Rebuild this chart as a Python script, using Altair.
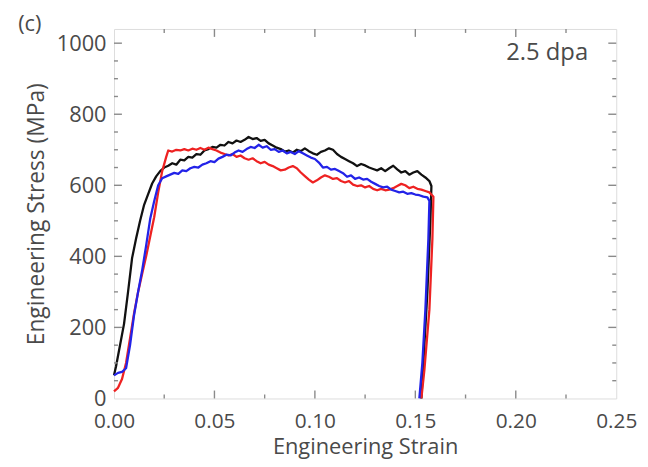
import altair as alt
import pandas as pd

# ---- data ----
black_strain = [0.000, 0.001, 0.003, 0.005, 0.007, 0.009, 0.011, 0.013, 0.015, 0.017, 0.019, 0.021, 0.023, 0.025,
                0.027, 0.029, 0.031, 0.033, 0.035, 0.037, 0.039, 0.041, 0.043, 0.045, 0.047, 0.049, 0.051, 0.053,
                0.055, 0.057, 0.059, 0.061, 0.063, 0.065, 0.067, 0.069, 0.071, 0.073, 0.075, 0.077, 0.079, 0.081,
                0.083, 0.085, 0.087, 0.089, 0.091, 0.093, 0.095, 0.097, 0.099, 0.101, 0.103, 0.105, 0.107, 0.109,
                0.111, 0.113, 0.115, 0.117, 0.119, 0.121, 0.123, 0.125, 0.127, 0.129, 0.131, 0.133, 0.135, 0.137,
                0.139, 0.141, 0.143, 0.145, 0.147, 0.149, 0.151, 0.153, 0.155, 0.157, 0.158,
                0.1575, 0.156, 0.1545, 0.153]
black_stress = [65, 90, 150, 210, 300, 395, 450, 500, 545, 575, 605, 625, 640, 650,
                655, 662, 658, 672, 670, 680, 678, 688, 686, 698, 702, 708, 706, 714,
                712, 722, 718, 726, 722, 728, 736, 730, 733, 725, 728, 718, 712, 706,
                702, 695, 698, 692, 700, 696, 704, 696, 690, 686, 694, 698, 704, 700,
                688, 680, 674, 668, 662, 654, 660, 656, 650, 646, 642, 648, 640, 648,
                655, 645, 636, 640, 630, 636, 640, 630, 622, 612, 598,
                500, 300, 150, 0]

blue_strain = [0.000, 0.002, 0.004, 0.006, 0.008, 0.010, 0.012, 0.014, 0.016, 0.018, 0.020, 0.022, 0.024, 0.026,
               0.028, 0.030, 0.032, 0.034, 0.036, 0.038, 0.040, 0.042, 0.044, 0.046, 0.048, 0.050, 0.052, 0.054,
               0.056, 0.058, 0.060, 0.062, 0.064, 0.066, 0.068, 0.070, 0.072, 0.074, 0.076, 0.078, 0.080, 0.082,
               0.084, 0.086, 0.088, 0.090, 0.092, 0.094, 0.096, 0.098, 0.100, 0.102, 0.104, 0.106, 0.108, 0.110,
               0.112, 0.114, 0.116, 0.118, 0.120, 0.122, 0.124, 0.126, 0.128, 0.130, 0.132, 0.134, 0.136, 0.138,
               0.140, 0.142, 0.144, 0.146, 0.148, 0.150, 0.152, 0.154, 0.156, 0.157,
               0.1565, 0.155, 0.1535, 0.152]
blue_stress = [65, 72, 75, 85, 150, 235, 300, 360, 430, 505, 555, 600, 620, 625,
               630, 635, 632, 642, 640, 648, 652, 650, 658, 662, 668, 665, 675, 680,
               686, 684, 692, 698, 694, 702, 708, 705, 714, 706, 710, 700, 702, 694,
               698, 690, 694, 688, 696, 690, 684, 678, 674, 664, 650, 652, 644, 646,
               640, 634, 624, 628, 618, 622, 616, 618, 610, 604, 598, 594, 596, 588,
               584, 580, 582, 576, 578, 574, 572, 568, 566, 556,
               450, 250, 100, 0]

red_strain = [0.000, 0.002, 0.004, 0.006, 0.008, 0.010, 0.012, 0.014, 0.016, 0.018, 0.020, 0.022, 0.024, 0.026,
              0.027, 0.029, 0.031, 0.033, 0.035, 0.037, 0.039, 0.041, 0.043, 0.045, 0.047, 0.049, 0.051, 0.053,
              0.055, 0.057, 0.059, 0.061, 0.063, 0.065, 0.067, 0.069, 0.071, 0.073, 0.075, 0.077, 0.079, 0.081,
              0.083, 0.085, 0.087, 0.089, 0.091, 0.093, 0.095, 0.097, 0.099, 0.101, 0.103, 0.105, 0.107, 0.109,
              0.111, 0.113, 0.115, 0.117, 0.119, 0.121, 0.123, 0.125, 0.127, 0.129, 0.131, 0.133, 0.135, 0.137,
              0.139, 0.141, 0.143, 0.145, 0.147, 0.149, 0.151, 0.153, 0.155, 0.157, 0.159,
              0.1585, 0.157, 0.1545, 0.153]
red_stress = [20, 30, 55, 100, 170, 240, 300, 350, 400, 455, 510, 580, 640, 680,
              698, 695, 700, 698, 702, 698, 703, 700, 705, 700, 706, 702, 698, 692,
              688, 684, 688, 680, 684, 676, 672, 676, 668, 662, 666, 658, 654, 648,
              642, 644, 650, 654, 648, 636, 626, 616, 608, 614, 622, 628, 624, 618,
              620, 612, 608, 612, 602, 598, 600, 594, 598, 590, 586, 590, 586, 588,
              592, 598, 604, 600, 592, 596, 590, 588, 584, 580, 568,
              450, 250, 80, 0]

series_names = ["black", "red", "blue"]
series_colors = ["#111111", "#ee2222", "#2323e8"]

x_major = [0.00, 0.05, 0.10, 0.15, 0.20, 0.25]
x_minor = [0.025, 0.075, 0.125, 0.175, 0.225]
y_major = [0, 200, 400, 600, 800, 1000]
y_minor = [50, 100, 150, 250, 300, 350, 450, 500, 550, 650, 700, 750, 850, 900, 950]

annotation = "2.5 dpa"
panel_label = "(c)"

# ---- build tables ----
rows = []
for name, xs, ys in [("black", black_strain, black_stress),
                     ("red", red_strain, red_stress),
                     ("blue", blue_strain, blue_stress)]:
    for i, (a, b) in enumerate(zip(xs, ys)):
        rows.append({"series": name, "i": i, "strain": a, "stress": b})
df = pd.DataFrame(rows)

W, H = 507, 373
FONT = "Open Sans"
TXT = "#4a4a4a"
FRAME = "#8a8a8a"

xscale = alt.Scale(domain=[0, 0.25], nice=False, zero=False)
yscale = alt.Scale(domain=[0, 1040], nice=False, zero=False)

lines = alt.Chart(df).mark_line(strokeWidth=2.3, strokeJoin="round").encode(
    x=alt.X("strain:Q", scale=xscale,
            axis=alt.Axis(values=x_major, format=".2f", ticks=False, domain=False, grid=False,
                          labelFont=FONT, labelFontSize=21, labelColor=TXT, labelPadding=12,
                          labelFlush=False, title="Engineering Strain", titleFont=FONT,
                          titleFontSize=22, titleFontWeight="normal", titleColor=TXT, titlePadding=6)),
    y=alt.Y("stress:Q", scale=yscale,
            axis=alt.Axis(values=y_major, format="d", ticks=False, domain=False, grid=False,
                          labelFont=FONT, labelFontSize=22, labelColor=TXT, labelPadding=8,
                          labelFlush=False, title="Engineering Stress (MPa)", titleFont=FONT,
                          titleFontSize=23, titleFontWeight="normal", titleColor=TXT, titlePadding=8)),
    color=alt.Color("series:N", scale=alt.Scale(domain=series_names, range=series_colors), legend=None),
    order=alt.Order("i:Q"),
    detail="series:N",
)

layers = [lines]

xmaj_df = pd.DataFrame({"v": x_major[1:-1]})
xmin_df = pd.DataFrame({"v": x_minor})
ymaj_df = pd.DataFrame({"v": y_major[1:]})
ymin_df = pd.DataFrame({"v": y_minor})

for d, L in [(xmaj_df, 8), (xmin_df, 4)]:
    layers.append(alt.Chart(d).mark_rule(color=FRAME, strokeWidth=1.4).encode(
        x=alt.X("v:Q", scale=xscale), y=alt.value(H), y2=alt.value(H - L)))
    layers.append(alt.Chart(d).mark_rule(color=FRAME, strokeWidth=1.4).encode(
        x=alt.X("v:Q", scale=xscale), y=alt.value(0), y2=alt.value(L)))
for d, L in [(ymaj_df, 8), (ymin_df, 4)]:
    layers.append(alt.Chart(d).mark_rule(color=FRAME, strokeWidth=1.4).encode(
        y=alt.Y("v:Q", scale=yscale), x=alt.value(0), x2=alt.value(L)))
    layers.append(alt.Chart(d).mark_rule(color=FRAME, strokeWidth=1.4).encode(
        y=alt.Y("v:Q", scale=yscale), x=alt.value(W), x2=alt.value(W - L)))

ann = alt.Chart(pd.DataFrame({"t": [annotation], "x": [0.236], "y": [972]})).mark_text(
    font=FONT, fontSize=24, color=TXT, align="right", baseline="middle").encode(
    x=alt.X("x:Q", scale=xscale), y=alt.Y("y:Q", scale=yscale), text="t:N")
layers.append(ann)

lab = alt.Chart(pd.DataFrame({"t": [panel_label]})).mark_text(
    font=FONT, fontSize=22, color=TXT, align="center", baseline="middle").encode(
    x=alt.value(-85), y=alt.value(-5), text="t:N")
layers.append(lab)

chart = alt.layer(*layers).properties(
    width=W, height=H,
    autosize=alt.AutoSizeParams(type="none"),
    padding={"left": 107, "top": 19, "right": 24, "bottom": 65},
).configure_view(stroke=FRAME, strokeWidth=1.6).configure(background="white")

chart.save("out.html", embed_options={"renderer": "svg", "actions": False})
